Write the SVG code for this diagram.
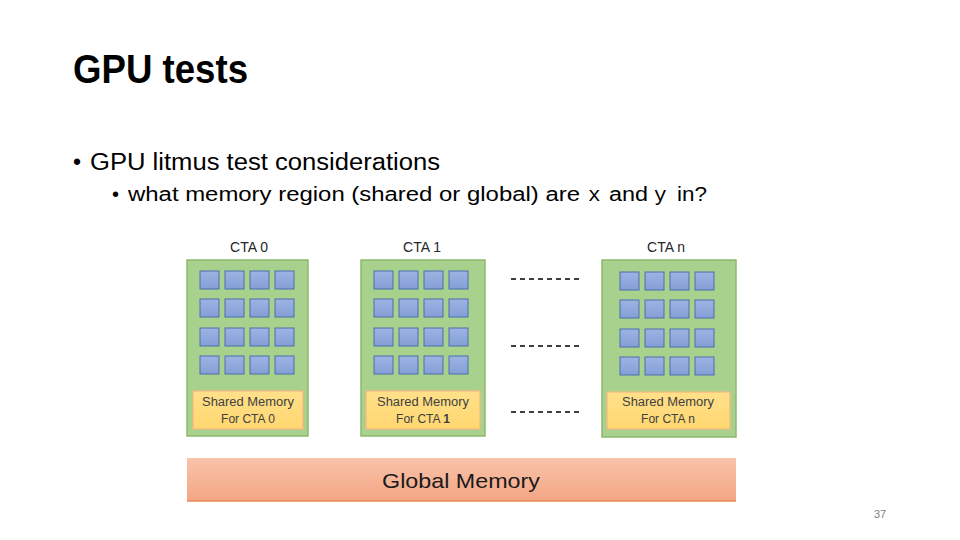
<svg xmlns="http://www.w3.org/2000/svg" width="960" height="540" viewBox="0 0 960 540">
<style>
text{font-family:"Liberation Sans","Open Sans",sans-serif;}
.title{font-size:40px;font-weight:bold;fill:#000;}
.b1{font-size:23px;fill:#000;}
.b2{font-size:20px;fill:#000;}
.mono{font-family:"Liberation Mono","DejaVu Sans Mono",monospace;font-size:21px;}
.cta{fill:#A9D18E;stroke:#8CB86E;stroke-width:1.5;}
.sq{fill:url(#gsq);stroke:#4A6FAE;stroke-width:1;}
.sh{fill:url(#gsh);stroke:#F5B880;stroke-width:1.2;}
.lbl{font-size:14px;fill:#262626;text-anchor:middle;}
.shl{font-size:12px;fill:#404040;text-anchor:middle;}
.dash{stroke:#000;stroke-width:1.5;stroke-dasharray:5,4;fill:none;}
</style>
<defs>
<linearGradient id="gsq" x1="0" y1="0" x2="0" y2="1"><stop offset="0" stop-color="#9DB3E2"/><stop offset="1" stop-color="#849FD6"/></linearGradient>
<linearGradient id="gsh" x1="0" y1="0" x2="0" y2="1"><stop offset="0" stop-color="#FFE08A"/><stop offset="1" stop-color="#FFD770"/></linearGradient>
<linearGradient id="ggm" x1="0" y1="0" x2="0" y2="1"><stop offset="0" stop-color="#F8C3AA"/><stop offset="1" stop-color="#F4A684"/></linearGradient>
<g id="grid">
<rect class="sq" x="0" y="0" width="19" height="18"/><rect class="sq" x="25" y="0" width="19" height="18"/><rect class="sq" x="50" y="0" width="19" height="18"/><rect class="sq" x="75" y="0" width="19" height="18"/>
<rect class="sq" x="0" y="28" width="19" height="18"/><rect class="sq" x="25" y="28" width="19" height="18"/><rect class="sq" x="50" y="28" width="19" height="18"/><rect class="sq" x="75" y="28" width="19" height="18"/>
<rect class="sq" x="0" y="57" width="19" height="18"/><rect class="sq" x="25" y="57" width="19" height="18"/><rect class="sq" x="50" y="57" width="19" height="18"/><rect class="sq" x="75" y="57" width="19" height="18"/>
<rect class="sq" x="0" y="85" width="19" height="18"/><rect class="sq" x="25" y="85" width="19" height="18"/><rect class="sq" x="50" y="85" width="19" height="18"/><rect class="sq" x="75" y="85" width="19" height="18"/>
</g>
</defs>
<rect width="960" height="540" fill="#fff"/>
<text class="title" x="73" y="83" textLength="175" lengthAdjust="spacingAndGlyphs">GPU tests</text>
<text class="b1" x="73" y="170">•</text>
<text class="b1" x="90" y="170" textLength="350" lengthAdjust="spacingAndGlyphs">GPU litmus test considerations</text>
<text class="b2" x="112" y="201">•</text>
<text class="b2" y="201"><tspan x="128" textLength="452" lengthAdjust="spacingAndGlyphs">what memory region (shared or global) are</tspan><tspan class="mono" x="588">x</tspan><tspan x="609" textLength="39" lengthAdjust="spacingAndGlyphs">and</tspan><tspan class="mono" x="654">y</tspan><tspan x="677" textLength="30" lengthAdjust="spacingAndGlyphs">in?</tspan></text>

<g id="cta0">
<text class="lbl" x="249" y="252">CTA 0</text>
<rect class="cta" x="187" y="260" width="121" height="176"/>
<use href="#grid" x="200" y="271"/>
<rect class="sh" x="193" y="391" width="110" height="38"/>
<text class="shl" x="248" y="406" textLength="92" lengthAdjust="spacingAndGlyphs">Shared Memory</text>
<text class="shl" x="248" y="423">For CTA 0</text>
</g>
<g id="cta1">
<text class="lbl" x="422" y="252">CTA 1</text>
<rect class="cta" x="361" y="260" width="124" height="176"/>
<use href="#grid" x="374" y="271"/>
<rect class="sh" x="366" y="391" width="114" height="38"/>
<text class="shl" x="423" y="406" textLength="92" lengthAdjust="spacingAndGlyphs">Shared Memory</text>
<text class="shl" x="423" y="423">For CTA <tspan font-weight="bold">1</tspan></text>
</g>
<g id="ctan">
<text class="lbl" x="666" y="252">CTA n</text>
<rect class="cta" x="602" y="260" width="134" height="177"/>
<use href="#grid" x="620" y="272"/>
<rect class="sh" x="607" y="392" width="123" height="37"/>
<text class="shl" x="668" y="406" textLength="92" lengthAdjust="spacingAndGlyphs">Shared Memory</text>
<text class="shl" x="668" y="423">For CTA n</text>
</g>
<g id="connectors">
<line class="dash" x1="511" y1="279" x2="581" y2="279" stroke-width="1"/>
<line class="dash" x1="511" y1="346" x2="581" y2="346"/>
<line class="dash" x1="511" y1="412" x2="581" y2="412"/>
</g>
<g id="global">
<rect x="187" y="458" width="549" height="43" fill="url(#ggm)"/>
<line x1="187" y1="501" x2="736" y2="501" stroke="#ED8A55" stroke-width="1.5"/>
<text x="461" y="488" font-size="21" fill="#1a1a1a" text-anchor="middle" textLength="158" lengthAdjust="spacingAndGlyphs">Global Memory</text>
</g>
<text x="880" y="518" font-size="11" fill="#7f7f7f" text-anchor="middle">37</text>
</svg>
